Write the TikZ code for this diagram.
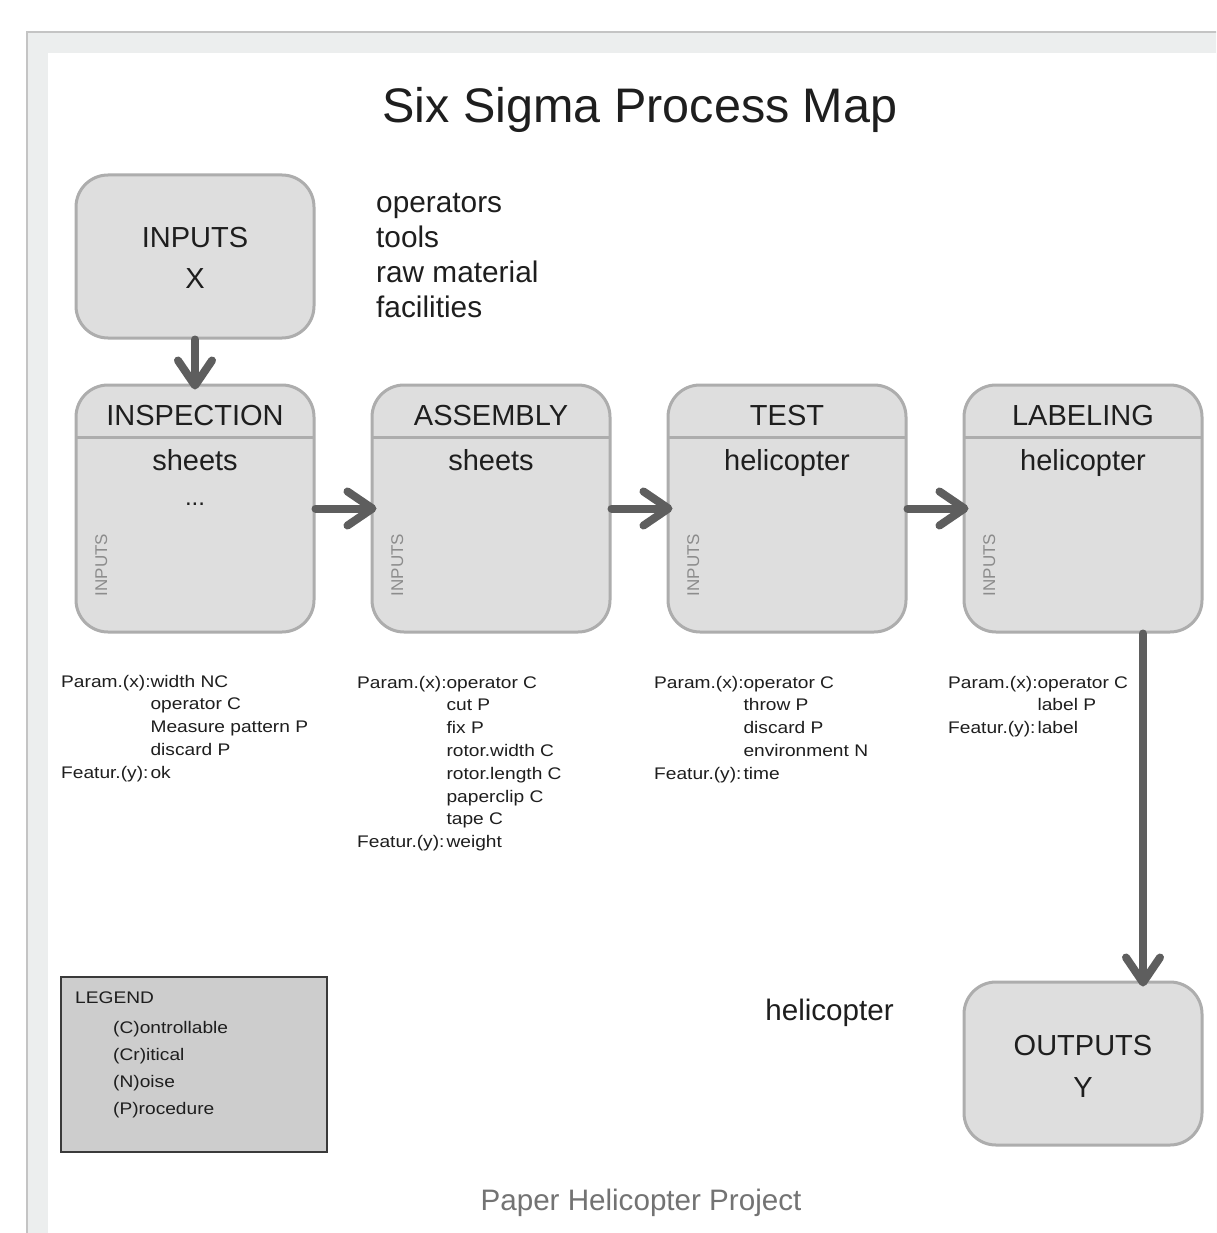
\documentclass[tikz,border=0pt]{standalone}
\usepackage{fontspec}
\setmainfont{Liberation Sans}
\newfontfamily\notefont[FakeStretch=1.14]{Liberation Sans}
\usetikzlibrary{arrows.meta}

\definecolor{framegray}{HTML}{ECEEEE}
\definecolor{frameline}{HTML}{C4C4C4}
\definecolor{boxfill}{HTML}{DEDEDE}
\definecolor{boxline}{HTML}{ADADAD}
\definecolor{flowgray}{HTML}{5E5E5E}
\definecolor{inkgray}{HTML}{1E1E1E}
\definecolor{sidegray}{HTML}{8C8C8C}
\definecolor{legendfill}{HTML}{CDCDCD}
\definecolor{legendline}{HTML}{3A3A3A}
\definecolor{footgray}{HTML}{737373}

\tikzset{
  stagebox/.style={draw=boxline, fill=boxfill, line width=3pt, rounded corners=32pt,
    minimum width=238pt, minimum height=247pt, inner sep=0pt},
  endbox/.style={stagebox, minimum height=163pt},
  bigtext/.style={inner sep=0pt, anchor=base, text=inkgray, font=\fontsize{29}{34.7}\selectfont},
  sidetag/.style={inner sep=0pt, anchor=base, rotate=90, text=sidegray, font=\fontsize{17}{20}\selectfont},
  note/.style={inner sep=0pt, anchor=base west, text=inkgray, font=\notefont\fontsize{16.8}{22.8}\selectfont},
  legendrows/.style={inner sep=0pt, anchor=base west, text=inkgray, font=\notefont\fontsize{16.8}{27.3}\selectfont},
  flow/.style={draw=flowgray, line width=8pt, line cap=round, shorten >=-6pt,
    -{Straight Barb[length=25pt,width=34pt,line cap=round,line join=round]}},
  divider/.style={draw=boxline, line width=3pt},
}

\begin{document}
\begin{tikzpicture}[x=1pt, y=-1pt]
\useasboundingbox (0,0) rectangle (1216,1233);
\clip (0,0) rectangle (1216,1233);

% page frame
\fill[framegray] (27,32) rectangle (1260,1270);
\draw[frameline, line width=1.2pt] (27,32) rectangle (1260,1270);
\fill[white] (48,53) rectangle (1260,1270);

% title
\node[inner sep=0pt, anchor=base, text=inkgray, font=\fontsize{48.5}{52}\selectfont] (title) at (640,123) {Six Sigma Process Map};

% inputs
\node[endbox] (inputs) at (195,256.5) {};
\node[bigtext] (inputs-a) at (195,247.5) {INPUTS};
\node[bigtext] (inputs-b) at (195,288.5) {X};
\node[bigtext, anchor=base west, font=\fontsize{29.8}{34.7}\selectfont] (inputs-list) at (376,213)
  {\begin{tabular}[t]{@{}l@{}}operators\\tools\\raw material\\facilities\end{tabular}};

% process stages
\foreach \nm/\cx/\head/\body in {insp/195/INSPECTION/sheets, asm/491/ASSEMBLY/sheets,
                                 test/787/TEST/helicopter, lab/1083/LABELING/helicopter}{
  \node[stagebox] (\nm) at (\cx,508.5) {};
  \coordinate (\nm-hl) at (\cx-119,437);
  \coordinate (\nm-hr) at (\cx+119,437);
  \draw[divider] (\nm-hl) -- (\nm-hr);
  \node[bigtext] (\nm-head) at (\cx,425) {\head};
  \node[bigtext] (\nm-body) at (\cx,470) {\body};
  \node[sidetag] (\nm-side) at (\cx-88,565) {INPUTS};
}
\node[inner sep=0pt, anchor=base, text=inkgray, font=\fontsize{24}{26}\selectfont] (insp-dots) at (195,505) {...};

% outputs
\node[endbox] (outputs) at (1083,1063.5) {};
\node[bigtext] (outputs-a) at (1083,1055.5) {OUTPUTS};
\node[bigtext] (outputs-b) at (1083,1097) {Y};
\node[bigtext, font=\fontsize{29.6}{32}\selectfont] (outputs-note) at (829.5,1020) {helicopter};

% connectors
\draw[flow] (inputs.south) -- (insp.north);
\draw[flow] (insp.east) -- (asm.west);
\draw[flow] (asm.east) -- (test.west);
\draw[flow] (test.east) -- (lab.west);
\draw[flow] ([xshift=60pt]lab.south) -- ([xshift=60pt]outputs.north);

% parameters and features
\node[note] (insp-params) at (61,687) {\begin{tabular}[t]{@{}l@{}l@{}}
  Param.(x):&width NC\\ &operator C\\ &Measure pattern P\\ &discard P\\ Featur.(y):&ok
  \end{tabular}};
\node[note] (asm-params) at (357,688) {\begin{tabular}[t]{@{}l@{}l@{}}
  Param.(x):&operator C\\ &cut P\\ &fix P\\ &rotor.width C\\ &rotor.length C\\ &paperclip C\\ &tape C\\ Featur.(y):&weight
  \end{tabular}};
\node[note] (test-params) at (654,688) {\begin{tabular}[t]{@{}l@{}l@{}}
  Param.(x):&operator C\\ &throw P\\ &discard P\\ &environment N\\ Featur.(y):&time
  \end{tabular}};
\node[note] (lab-params) at (948,688) {\begin{tabular}[t]{@{}l@{}l@{}}
  Param.(x):&operator C\\ &label P\\ Featur.(y):&label
  \end{tabular}};

% legend
\node[draw=legendline, fill=legendfill, line width=2pt, minimum width=266pt, minimum height=175pt, inner sep=0pt] (legend) at (194,1064.5) {};
\node[note] (legend-title) at (75,1003) {LEGEND};
\node[legendrows] (legend-items) at (113,1033) {\begin{tabular}[t]{@{}l@{}}
  (C)ontrollable\\ (Cr)itical\\ (N)oise\\ (P)rocedure
  \end{tabular}};

% footer
\node[inner sep=0pt, anchor=base, text=footgray, font=\fontsize{29.6}{31}\selectfont] (footer) at (641,1210) {Paper Helicopter Project};
\end{tikzpicture}
\end{document}
